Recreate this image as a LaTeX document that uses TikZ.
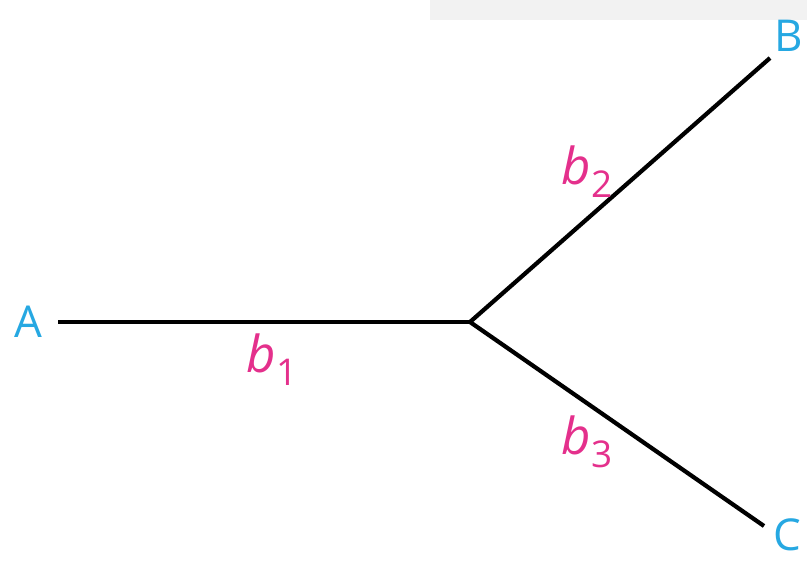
\documentclass[tikz,border=0pt]{standalone}
\usepackage{fontspec}
\setmainfont{Open Sans}
\definecolor{ptblue}{RGB}{38,168,226}
\definecolor{sgpink}{RGB}{228,48,140}
\begin{document}
\begin{tikzpicture}[x=0.02cm,y=-0.02cm,
  pt/.style={text=ptblue,font=\fontsize{25}{30}\selectfont,inner sep=0pt},
  seg/.style={text=sgpink,font=\fontsize{29}{33}\selectfont,inner sep=0pt}]
\useasboundingbox (0,0) rectangle (807,561);
\fill[black!5] (430,0) rectangle (807,20);
\node[pt] (A) at (28,322) {A};
\node[pt] (B) at (789,36) {B};
\node[pt] (C) at (787,535) {C};
\coordinate (a) at (58,322);
\coordinate (m) at (470,322);
\coordinate (b) at (770,58);
\coordinate (c) at (764,526);
\draw[line width=2.4pt] (a) -- (m);
\draw[line width=2.4pt] (m) -- (b);
\draw[line width=2.4pt] (m) -- (c);
\node[seg] (b1) at (272,360) {\textit{b}\raisebox{-0.25em}{\fontsize{21}{24}\selectfont 1}};
\node[seg] (b2) at (587,172) {\textit{b}\raisebox{-0.25em}{\fontsize{21}{24}\selectfont 2}};
\node[seg] (b3) at (587,442) {\textit{b}\raisebox{-0.25em}{\fontsize{21}{24}\selectfont 3}};
\end{tikzpicture}
\end{document}
